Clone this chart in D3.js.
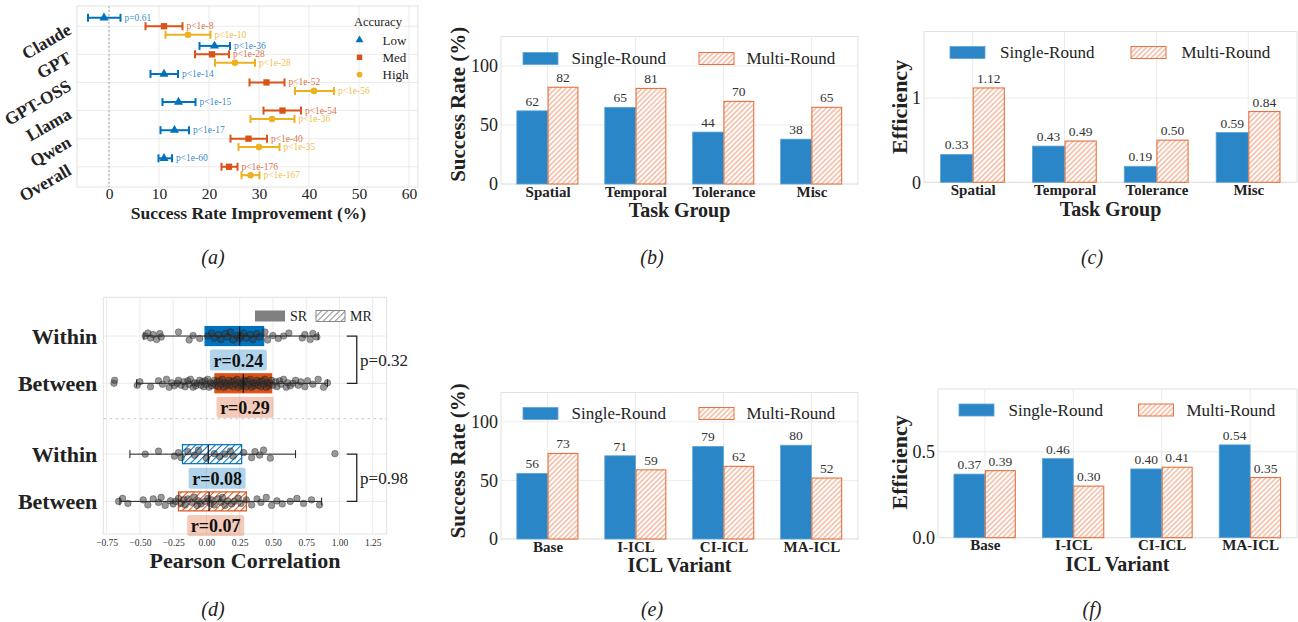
<!DOCTYPE html>
<html>
<head>
<meta charset="utf-8">
<script src="https://cdn.jsdelivr.net/npm/d3@7"></script>
<style>
  body { margin: 0; background: #fff; }
  svg { font-family: "Times New Roman", "Liberation Serif", serif; }
</style>
</head>
<body>
<svg id="fig" width="1298" height="622"></svg>
<script>
// ---------- (a) success rate improvement ----------
const accModels = ['Claude', 'GPT', 'GPT-OSS', 'Llama', 'Qwen', 'Overall'];
const lowMean = [-1.0, 21.1, 11.0, 13.9, 13.1, 11.0];
const lowLo   = [-4.2, 18.1, 8.3, 10.7, 10.3, 9.9];
const lowHi   = [2.3, 24.2, 13.8, 17.3, 16.0, 12.6];
const lowP    = ['p=0.61', 'p<1e-36', 'p<1e-14', 'p<1e-15', 'p<1e-17', 'p<1e-60'];
const medMean = [11.0, 20.6, 31.5, 34.7, 27.9, 24.0];
const medLo   = [7.3, 17.2, 28.1, 30.9, 24.3, 22.5];
const medHi   = [14.7, 24.0, 35.1, 38.4, 31.6, 25.7];
const medP    = ['p<1e-8', 'p<1e-28', 'p<1e-52', 'p<1e-54', 'p<1e-40', 'p<1e-176'];
const highMean = [15.8, 25.2, 41.0, 32.6, 30.0, 28.3];
const highLo   = [11.3, 21.2, 37.2, 28.3, 25.9, 26.5];
const highHi   = [20.3, 29.2, 45.0, 37.1, 34.1, 30.1];
const highP    = ['p<1e-10', 'p<1e-28', 'p<1e-56', 'p<1e-36', 'p<1e-35', 'p<1e-167'];
const accTicks = [0, 10, 20, 30, 40, 50, 60];

// ---------- (b)(c)(e)(f) bars ----------
const taskGroups = ['Spatial', 'Temporal', 'Tolerance', 'Misc'];
const srTask = [62, 65, 44, 38];
const mrTask = [82, 81, 70, 65];
const effSrTask = [0.33, 0.43, 0.19, 0.59];
const effMrTask = [1.12, 0.49, 0.50, 0.84];
const iclVariants = ['Base', 'I-ICL', 'CI-ICL', 'MA-ICL'];
const srIcl = [56, 71, 79, 80];
const mrIcl = [73, 59, 62, 52];
const effSrIcl = [0.37, 0.46, 0.40, 0.54];
const effMrIcl = [0.39, 0.30, 0.41, 0.35];

// ---------- (d) pearson correlation ----------
const corrRows = ['Within', 'Between', 'Within', 'Between'];
const corrMean = [0.24, 0.29, 0.08, 0.07];
const corrQ1   = [-0.01, 0.064, -0.18, -0.21];
const corrMed  = [0.25, 0.277, 0.014, 0.02];
const corrQ3   = [0.43, 0.49, 0.265, 0.30];
const corrWLo  = [-0.47, -0.525, -0.575, -0.65];
const corrWHi  = [0.84, 0.91, 0.67, 0.866];
const corrP    = ['p=0.32', 'p=0.98'];
const corrTicks = [-0.75, -0.5, -0.25, 0, 0.25, 0.5, 0.75, 1.0, 1.25];
const withinSR = [-0.46, -0.44, -0.42, -0.40, -0.375, -0.35, -0.34, -0.21, -0.13, -0.10, -0.05, 0.01, 0.04, 0.06,
  0.09, 0.11, 0.14, 0.16, 0.18, 0.20, 0.23, 0.25, 0.26, 0.28, 0.30, 0.33, 0.35, 0.38, 0.40, 0.44, 0.46, 0.50,
  0.54, 0.58, 0.62, 0.72, 0.74, 0.78, 0.80, 0.83];
const betweenSR = [-0.695, -0.69, -0.52, -0.50, -0.42, -0.36, -0.33, -0.30, -0.28, -0.26, -0.24, -0.22, -0.21, -0.19,
  -0.17, -0.16, -0.14, -0.13, -0.12, -0.10, -0.09, -0.08, -0.07, -0.05, -0.04, -0.03, -0.02, -0.01, 0.00, 0.01,
  0.02, 0.03, 0.04, 0.05, 0.06, 0.07, 0.08, 0.09, 0.10, 0.11, 0.12, 0.13, 0.14, 0.15, 0.16, 0.17, 0.18, 0.19,
  0.20, 0.21, 0.22, 0.23, 0.24, 0.25, 0.26, 0.27, 0.28, 0.28, 0.29, 0.30, 0.31, 0.32, 0.33, 0.34, 0.35, 0.36,
  0.37, 0.38, 0.39, 0.40, 0.41, 0.42, 0.43, 0.44, 0.45, 0.46, 0.47, 0.48, 0.49, 0.50, 0.52, 0.53, 0.55, 0.56,
  0.58, 0.60, 0.61, 0.63, 0.65, 0.67, 0.69, 0.71, 0.74, 0.76, 0.80, 0.84, 0.88, 0.91];
const withinMR = [-0.46, -0.36, -0.24, -0.21, -0.19, -0.14, -0.09, -0.06, 0.0, 0.06, 0.10, 0.14, 0.18, 0.20,
  0.28, 0.34, 0.365, 0.40, 0.43, 0.48, 0.966];
const betweenMR = [-0.66, -0.63, -0.59, -0.475, -0.44, -0.40, -0.36, -0.34, -0.31, -0.27, -0.25, -0.23, -0.21,
  -0.19, -0.17, -0.16, -0.14, -0.11, -0.09, -0.07, -0.06, -0.04, -0.01, 0.01, 0.03, 0.04, 0.06, 0.09, 0.11,
  0.12, 0.14, 0.16, 0.19, 0.21, 0.24, 0.26, 0.30, 0.34, 0.38, 0.41, 0.45, 0.49, 0.53, 0.57, 0.63, 0.68, 0.73,
  0.79, 0.85];

const C_LOW = '#0072BD', C_MED = '#D95319', C_HIGH = '#EDB120';
const BAR_BLUE = '#2a86c7', HATCH_ORANGE = '#ee8a60', EDGE_ORANGE = '#e4733f';
const GRID = '#ebebeb', FRAME = '#e2e2e2', INK = '#222';

const svg = d3.select('#fig');
const defs = svg.append('defs');

function hatch(id, color, size, sw) {
  const p = defs.append('pattern')
    .attr('id', id)
    .attr('patternUnits', 'userSpaceOnUse')
    .attr('width', size).attr('height', size)
    .attr('patternTransform', 'rotate(45)');
  p.append('rect').attr('width', size).attr('height', size).attr('fill', '#fff');
  p.append('line')
    .attr('x1', size / 2).attr('y1', 0).attr('x2', size / 2).attr('y2', size)
    .attr('stroke', color).attr('stroke-width', sw);
}
hatch('hOrange', HATCH_ORANGE, 3.6, 0.9);
hatch('hBlueD', C_LOW, 4.6, 1.1);
hatch('hOrangeD', C_MED, 4.6, 1.1);
hatch('hGray', '#888', 4.2, 1);

function panelLabel(text, x, y) {
  svg.append('text')
    .attr('x', x).attr('y', y)
    .attr('text-anchor', 'middle')
    .style('font-size', '20px')
    .style('font-style', 'italic')
    .attr('fill', INK)
    .text(text);
}

// d3 axes set a sans-serif font on the group, drop it so Times is inherited
function cleanAxis(sel) {
  sel.attr('font-family', null).attr('font-size', null);
  sel.select('.domain').remove();
  return sel;
}

/* ================= PANEL (a) ================= */
(function () {
  const left = 77, right = 418, top = 6, bottom = 187;
  const g = svg.append('g');
  const x = d3.scaleLinear().domain([-6.4, 61.8]).range([left, right]);
  const y = d3.scaleLinear().domain([-0.72, 5.72]).range([top, bottom]);

  g.selectAll('.vg').data(accTicks).enter().append('line')
    .attr('x1', d => x(d)).attr('x2', d => x(d))
    .attr('y1', top).attr('y2', bottom)
    .attr('stroke', GRID);
  g.selectAll('.hg').data(accModels).enter().append('line')
    .attr('x1', left).attr('x2', right)
    .attr('y1', (d, i) => y(i)).attr('y2', (d, i) => y(i))
    .attr('stroke', GRID);
  g.append('rect')
    .attr('x', left).attr('y', top).attr('width', right - left).attr('height', bottom - top)
    .attr('fill', 'none').attr('stroke', FRAME);
  g.append('line')
    .attr('x1', x(0)).attr('x2', x(0)).attr('y1', top).attr('y2', bottom)
    .attr('stroke', '#aaa').attr('stroke-dasharray', '2,2');

  const xAxis = g.append('g')
    .attr('transform', `translate(0, ${bottom})`)
    .call(d3.axisBottom(x).tickValues(accTicks).tickSize(0).tickPadding(1))
    .call(cleanAxis);
  xAxis.selectAll('text').style('font-size', '15.5px').attr('fill', INK);

  const yAxis = g.append('g')
    .attr('transform', `translate(${left}, 0)`)
    .call(d3.axisLeft(y).tickValues(d3.range(accModels.length)).tickFormat(i => accModels[i]).tickSize(0))
    .call(cleanAxis);
  yAxis.selectAll('text')
    .attr('x', 0).attr('dy', 0)
    .attr('transform', 'translate(-4.5, 6.5) rotate(-30)')
    .attr('text-anchor', 'end')
    .style('font-size', '17.5px').style('font-weight', 'bold')
    .attr('fill', INK);

  const levels = [
    { name: 'Low', mean: lowMean, lo: lowLo, hi: lowHi, p: lowP, color: C_LOW, shape: d3.symbolTriangle, size: 36, off: -0.3 },
    { name: 'Med', mean: medMean, lo: medLo, hi: medHi, p: medP, color: C_MED, shape: d3.symbolSquare, size: 40, off: 0 },
    { name: 'High', mean: highMean, lo: highLo, hi: highHi, p: highP, color: C_HIGH, shape: d3.symbolCircle, size: 34, off: 0.3 }
  ];

  levels.forEach(lv => {
    const s = g.append('g');
    accModels.forEach((m, i) => {
      const yy = y(i + lv.off);
      s.append('line')
        .attr('x1', x(lv.lo[i])).attr('x2', x(lv.hi[i]))
        .attr('y1', yy).attr('y2', yy)
        .attr('stroke', lv.color).attr('stroke-width', 2);
      [lv.lo[i], lv.hi[i]].forEach(v => {
        s.append('line')
          .attr('x1', x(v)).attr('x2', x(v))
          .attr('y1', yy - 4).attr('y2', yy + 4)
          .attr('stroke', lv.color).attr('stroke-width', 2);
      });
      s.append('path')
        .attr('d', d3.symbol().type(lv.shape).size(lv.size)())
        .attr('transform', `translate(${x(lv.mean[i])}, ${yy})`)
        .attr('fill', lv.color);
      s.append('text')
        .attr('x', x(lv.hi[i]) + 4).attr('y', yy + 3)
        .style('font-size', '9.5px')
        .attr('fill', lv.color).attr('fill-opacity', 0.85)
        .text(lv.p[i]);
    });
  });

  // legend
  const lg = g.append('g');
  lg.append('text').attr('x', 354).attr('y', 26).style('font-size', '12.5px').attr('fill', INK).text('Accuracy');
  levels.forEach((lv, i) => {
    const ly = 40 + i * 17.3;
    lg.append('path')
      .attr('d', d3.symbol().type(lv.shape).size(lv.size * 0.75)())
      .attr('transform', `translate(359.5, ${ly})`)
      .attr('fill', lv.color);
    lg.append('text').attr('x', 382.5).attr('y', ly + 4.5)
      .style('font-size', '13px').attr('fill', INK).text(lv.name);
  });

  g.append('text')
    .attr('x', (left + right) / 2 + 1).attr('y', 218.5)
    .attr('text-anchor', 'middle')
    .style('font-size', '17.5px').style('font-weight', 'bold')
    .attr('fill', INK)
    .text('Success Rate Improvement (%)');
})();
panelLabel('(a)', 213, 264);

/* ================= BAR PANELS ================= */
function barPanel(o) {
  const g = svg.append('g');
  const x = d3.scaleLinear().domain([-0.53, 3.53]).range([o.left, o.right]);
  const y = d3.scaleLinear().domain(o.yDomain).range([o.bottom, o.top]);
  const idx = d3.range(o.cats.length);

  g.selectAll('.hg').data(o.yTicks).enter().append('line')
    .attr('x1', o.left).attr('x2', o.right)
    .attr('y1', d => y(d)).attr('y2', d => y(d))
    .attr('stroke', GRID);
  g.selectAll('.vg').data(idx).enter().append('line')
    .attr('x1', d => x(d)).attr('x2', d => x(d))
    .attr('y1', o.top).attr('y2', o.bottom)
    .attr('stroke', GRID);
  g.append('rect')
    .attr('x', o.left).attr('y', o.top).attr('width', o.right - o.left).attr('height', o.bottom - o.top)
    .attr('fill', 'none').attr('stroke', FRAME);

  const w = 0.35;
  g.selectAll('.sr').data(o.single).enter().append('rect')
    .attr('x', (d, i) => x(i - w))
    .attr('width', (d, i) => x(i) - x(i - w))
    .attr('y', d => y(d))
    .attr('height', d => y(0) - y(d))
    .attr('fill', BAR_BLUE)
    .attr('stroke', '#5ea3d8').attr('stroke-width', 0.8);
  g.selectAll('.mr').data(o.multi).enter().append('rect')
    .attr('x', (d, i) => x(i) + 0.5)
    .attr('width', (d, i) => x(i + w) - x(i) - 1)
    .attr('y', d => y(d))
    .attr('height', d => y(0) - y(d))
    .attr('fill', 'url(#hOrange)')
    .attr('stroke', EDGE_ORANGE).attr('stroke-width', 1.1);

  const vlab = (data, off) => g.selectAll(null).data(data).enter().append('text')
    .attr('x', (d, i) => x(i + off))
    .attr('y', d => y(d) - 5)
    .attr('text-anchor', 'middle')
    .style('font-size', '13.5px')
    .attr('fill', '#333')
    .text(d => o.valFmt(d));
  vlab(o.single, -w / 2);
  vlab(o.multi, w / 2);

  const ya = g.append('g')
    .attr('transform', `translate(${o.left}, 0)`)
    .call(d3.axisLeft(y).tickValues(o.yTicks).tickFormat(o.tickFmt).tickSize(0).tickPadding(3))
    .call(cleanAxis);
  ya.selectAll('text').style('font-size', '18px').attr('fill', INK);

  const xa = g.append('g')
    .attr('transform', `translate(0, ${o.bottom})`)
    .call(d3.axisBottom(x).tickValues(idx).tickFormat(i => o.cats[i]).tickSize(0).tickPadding(2))
    .call(cleanAxis);
  xa.selectAll('text').style('font-size', '15px').style('font-weight', 'bold').attr('fill', INK);

  g.append('text')
    .attr('x', (x(0) + x(3)) / 2).attr('y', o.titleY)
    .attr('text-anchor', 'middle')
    .style('font-size', '20px').style('font-weight', 'bold')
    .attr('fill', INK)
    .text(o.xTitle);
  g.append('text')
    .attr('transform', `translate(${o.yTitleX}, ${(o.top + o.bottom) / 2 + o.yTitleShift}) rotate(-90)`)
    .attr('text-anchor', 'middle')
    .attr('dominant-baseline', 'central')
    .style('font-size', o.yTitleSize).style('font-weight', 'bold')
    .attr('fill', INK)
    .text(o.yTitle);

  // legend
  const L = o.legend;
  g.append('rect').attr('x', L.x1).attr('y', L.y).attr('width', 35).attr('height', 12)
    .attr('fill', BAR_BLUE).attr('stroke', '#5ea3d8').attr('stroke-width', 0.8);
  g.append('text').attr('x', L.t1).attr('y', L.y + 6).attr('dominant-baseline', 'central')
    .style('font-size', '17px').attr('fill', INK).text('Single-Round');
  g.append('rect').attr('x', L.x2).attr('y', L.y).attr('width', 35).attr('height', 12)
    .attr('fill', 'url(#hOrange)').attr('stroke', EDGE_ORANGE).attr('stroke-width', 1);
  g.append('text').attr('x', L.t2).attr('y', L.y + 6).attr('dominant-baseline', 'central')
    .style('font-size', '17px').attr('fill', INK).text('Multi-Round');
}

const fmtInt = d3.format('d');
const fmt2 = d3.format('.2f');

barPanel({
  cats: taskGroups, single: srTask, multi: mrTask,
  left: 501, right: 858, top: 36.5, bottom: 184,
  yDomain: [0, 125], yTicks: [0, 50, 100], tickFmt: fmtInt, valFmt: fmtInt,
  xTitle: 'Task Group', titleY: 217, yTitle: 'Success Rate (%)', yTitleX: 458, yTitleShift: -6, yTitleSize: '21px',
  legend: { x1: 523, x2: 699, t1: 571.5, t2: 746.5, y: 52.5 }
});
barPanel({
  cats: taskGroups, single: effSrTask, multi: effMrTask,
  left: 924, right: 1297, top: 31.5, bottom: 182.3,
  yDomain: [0, 1.79], yTicks: [0, 1], tickFmt: d3.format('d'), valFmt: fmt2,
  xTitle: 'Task Group', titleY: 216, yTitle: 'Efficiency', yTitleX: 899, yTitleShift: 0, yTitleSize: '22px',
  legend: { x1: 950, x2: 1131, t1: 1000, t2: 1181.5, y: 46.5 }
});
barPanel({
  cats: iclVariants, single: srIcl, multi: mrIcl,
  left: 501, right: 858, top: 392.5, bottom: 539,
  yDomain: [0, 125], yTicks: [0, 50, 100], tickFmt: fmtInt, valFmt: fmtInt,
  xTitle: 'ICL Variant', titleY: 572, yTitle: 'Success Rate (%)', yTitleX: 458, yTitleShift: -5, yTitleSize: '21px',
  legend: { x1: 523, x2: 699, t1: 571.5, t2: 746.5, y: 407.5 }
});
barPanel({
  cats: iclVariants, single: effSrIcl, multi: effMrIcl,
  left: 938, right: 1297, top: 389, bottom: 537.7,
  yDomain: [0, 0.865], yTicks: [0, 0.5], tickFmt: d3.format('.1f'), valFmt: fmt2,
  xTitle: 'ICL Variant', titleY: 571, yTitle: 'Efficiency', yTitleX: 899, yTitleShift: -1, yTitleSize: '22px',
  legend: { x1: 959, x2: 1138.5, t1: 1008.5, t2: 1186.5, y: 404 }
});
panelLabel('(b)', 652, 264);
panelLabel('(c)', 1092, 264);
panelLabel('(e)', 652, 616);
panelLabel('(f)', 1092, 616);

/* ================= PANEL (d) ================= */
(function () {
  const left = 103.3, right = 386.7, top = 297.3, bottom = 534;
  const g = svg.append('g');
  const x = d3.scaleLinear().domain([-0.775, 1.355]).range([left, right]);
  const y = d3.scaleLinear().domain([-0.82, 4.19]).range([top, bottom]);
  const rowPos = [0, 1, 2.5, 3.5];
  const points = [withinSR, betweenSR, withinMR, betweenMR];
  const boxFill = [C_LOW, C_MED, 'url(#hBlueD)', 'url(#hOrangeD)'];
  const boxStroke = [C_LOW, C_MED, C_LOW, C_MED];
  const jitter = [0, -3, 2, -1.5, 3.5, -2.5, 1, -4, 4, -0.5, 2.5];

  g.selectAll('.vg').data(corrTicks).enter().append('line')
    .attr('x1', d => x(d)).attr('x2', d => x(d))
    .attr('y1', top).attr('y2', bottom)
    .attr('stroke', GRID);
  g.selectAll('.hg').data(rowPos).enter().append('line')
    .attr('x1', left).attr('x2', right)
    .attr('y1', d => y(d)).attr('y2', d => y(d))
    .attr('stroke', GRID);
  g.append('rect')
    .attr('x', left).attr('y', top).attr('width', right - left).attr('height', bottom - top)
    .attr('fill', 'none').attr('stroke', FRAME);
  g.append('line')
    .attr('x1', left).attr('x2', right).attr('y1', y(1.75)).attr('y2', y(1.75))
    .attr('stroke', '#c8c8c8').attr('stroke-dasharray', '3,3');

  const bh = 19;
  rowPos.forEach((p, i) => {
    const yy = y(p);
    g.append('rect')
      .attr('x', x(corrQ1[i])).attr('y', yy - bh / 2)
      .attr('width', x(corrQ3[i]) - x(corrQ1[i])).attr('height', bh)
      .attr('fill', boxFill[i]).attr('stroke', boxStroke[i]).attr('stroke-width', 1.2);
    g.append('line')
      .attr('x1', x(corrWLo[i])).attr('x2', x(corrWHi[i]))
      .attr('y1', yy).attr('y2', yy)
      .attr('stroke', '#222').attr('stroke-width', 1);
    [corrWLo[i], corrWHi[i]].forEach(v => {
      g.append('line')
        .attr('x1', x(v)).attr('x2', x(v)).attr('y1', yy - 4).attr('y2', yy + 4)
        .attr('stroke', '#222').attr('stroke-width', 1);
    });
    g.selectAll(null).data(points[i]).enter().append('circle')
      .attr('cx', d => x(d))
      .attr('cy', (d, j) => yy + jitter[j % jitter.length])
      .attr('r', 3.3)
      .attr('fill', '#333').attr('fill-opacity', 0.5)
      .attr('stroke', '#111').attr('stroke-opacity', 0.5).attr('stroke-width', 0.6);
    g.append('line')
      .attr('x1', x(corrMed[i])).attr('x2', x(corrMed[i]))
      .attr('y1', yy - bh / 2).attr('y2', yy + bh / 2)
      .attr('stroke', '#111').attr('stroke-width', 1.2);

    // r label
    const lx = x(corrMean[i]), ly = yy + 24;
    g.append('rect')
      .attr('x', lx - 28.5).attr('y', ly - 10.5).attr('width', 57).attr('height', 21).attr('rx', 2)
      .attr('fill', boxStroke[i]).attr('fill-opacity', 0.3);
    g.append('text')
      .attr('x', lx).attr('y', ly + 1)
      .attr('text-anchor', 'middle').attr('dominant-baseline', 'central')
      .style('font-size', '18px').style('font-weight', 'bold')
      .attr('fill', '#111')
      .text('r=' + fmt2(corrMean[i]));
  });

  // significance brackets
  [[0, 1], [2.5, 3.5]].forEach((pair, k) => {
    const bx = x(1.13), tx = x(1.055);
    g.append('path')
      .attr('d', `M${tx},${y(pair[0])}H${bx}V${y(pair[1])}H${tx}`)
      .attr('fill', 'none').attr('stroke', '#222').attr('stroke-width', 1.3);
    g.append('text')
      .attr('x', x(1.155)).attr('y', (y(pair[0]) + y(pair[1])) / 2 + 1)
      .attr('dominant-baseline', 'central')
      .style('font-size', '17px').attr('fill', INK)
      .text(corrP[k]);
  });

  const xa = g.append('g')
    .attr('transform', `translate(0, ${bottom})`)
    .call(d3.axisBottom(x).tickValues(corrTicks).tickFormat(d3.format('.2f')).tickSize(0).tickPadding(5))
    .call(cleanAxis);
  xa.selectAll('text').style('font-size', '9.5px').attr('fill', '#333');

  const ya = g.append('g')
    .attr('transform', `translate(${left}, 0)`)
    .call(d3.axisLeft(y).tickValues(rowPos).tickFormat((d, i) => corrRows[i]).tickSize(0).tickPadding(6))
    .call(cleanAxis);
  ya.selectAll('text').style('font-size', '22px').style('font-weight', 'bold').attr('fill', INK);

  g.append('text')
    .attr('x', 245).attr('y', 568)
    .attr('text-anchor', 'middle')
    .style('font-size', '22px').style('font-weight', 'bold')
    .attr('fill', INK)
    .text('Pearson Correlation');

  // legend
  g.append('rect').attr('x', 255).attr('y', 310.5).attr('width', 30).attr('height', 11).attr('fill', '#808080');
  g.append('text').attr('x', 290).attr('y', 316.5).attr('dominant-baseline', 'central')
    .style('font-size', '14px').attr('fill', INK).text('SR');
  g.append('rect').attr('x', 316).attr('y', 310.5).attr('width', 29).attr('height', 11)
    .attr('fill', 'url(#hGray)').attr('stroke', '#888').attr('stroke-width', 1);
  g.append('text').attr('x', 350).attr('y', 316.5).attr('dominant-baseline', 'central')
    .style('font-size', '14px').attr('fill', INK).text('MR');
})();
panelLabel('(d)', 213, 616);
</script>
</body>
</html>
